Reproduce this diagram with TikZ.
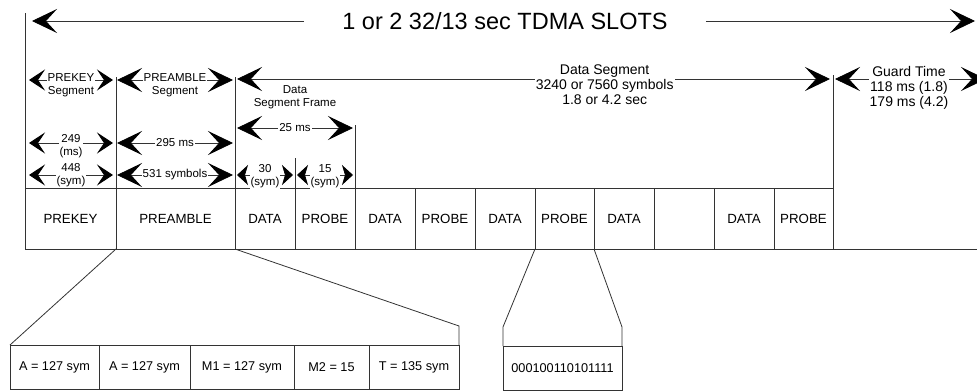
\documentclass[tikz,border=0pt]{standalone}
\usepackage{fontspec}
\setmainfont{Liberation Sans}
\usetikzlibrary{arrows.meta, positioning}

\tikzset{
  rule/.style={draw=black!80, line width=0.8pt},
  bigtip/.tip={Stealth[length=25pt, width=24pt, inset=11pt, color=black]},
  smalltip/.tip={Stealth[length=16pt, width=21pt, inset=7pt, color=black]},
  tinytip/.tip={Stealth[length=11pt, width=20pt, inset=3pt, color=black]},
  bigdim/.style={rule, bigtip-bigtip},
  smalldim/.style={rule, smalltip-smalltip},
  tinydim/.style={rule, tinytip-tinytip},
  dimlabel/.style={fill=white, inner sep=1pt, align=center, font=\fontsize{11.5}{13}\selectfont},
  biglabel/.style={dimlabel, font=\fontsize{14}{15}\selectfont},
  slot/.style={rule, outer sep=0pt, inner sep=0pt, minimum height=61pt, font=\fontsize{13.3}{15}\selectfont},
  part/.style={rule, outer sep=0pt, inner sep=0pt, minimum height=44pt, font=\fontsize{12.7}{14}\selectfont},
}

\begin{document}
\begin{tikzpicture}[x=1pt, y=-1pt]
\useasboundingbox (0,0) rectangle (977,391);

% slot row
\node[slot, minimum width=91pt, anchor=north west] (prekey) at (25,188) {PREKEY};
\node[slot, minimum width=119pt, right=0pt of prekey] (preamble) {PREAMBLE};
\node[slot, minimum width=60pt, right=0pt of preamble] (data1) {DATA};
\node[slot, minimum width=60pt, right=0pt of data1] (probe1) {PROBE};
\node[slot, minimum width=60pt, right=0pt of probe1] (data2) {DATA};
\node[slot, minimum width=60pt, right=0pt of data2] (probe2) {PROBE};
\node[slot, minimum width=60pt, right=0pt of probe2] (data3) {DATA};
\node[slot, minimum width=59pt, right=0pt of data3] (probe3) {PROBE};
\node[slot, minimum width=60pt, right=0pt of probe3] (data4) {DATA};
\node[slot, minimum width=60pt, right=0pt of data4] (gap) {};
\node[slot, minimum width=60pt, right=0pt of gap] (data5) {DATA};
\node[slot, minimum width=59pt, right=0pt of data5] (probe5) {PROBE};

\draw[rule] (prekey.north west) -- ++(0,-175);
\draw[rule] (prekey.north east) -- ++(0,-111);
\draw[rule] (preamble.north east) -- ++(0,-111);
\draw[rule] (data1.north east) -- ++(0,-30);
\draw[rule] (probe1.north east) -- ++(0,-63);
\draw[rule] (probe5.north east) -- ++(0,-113);
\draw[rule] (probe5.south east) -- ++(144,0);

% preamble and probe detail
\node[part, minimum width=89pt, anchor=north west] (symA) at (10,345) {A = 127 sym};
\node[part, minimum width=91pt, right=0pt of symA] (symB) {A = 127 sym};
\node[part, minimum width=104pt, right=0pt of symB] (symM1) {M1 = 127 sym};
\node[part, minimum width=75pt, right=0pt of symM1] (symM2) {M2 = 15};
\node[part, minimum width=90pt, right=0pt of symM2] (symT) {T = 135 sym};
\node[part, minimum width=119pt, anchor=north west] (pattern) at (503,346) {000100110101111};

\draw[rule] (preamble.south west) -- (symA.north west);
\draw[rule] (preamble.south east) -- ++(224,77) -- (symT.north east);
\draw[rule] (probe3.south west) -- ++(-32,78) -- (pattern.north west);
\draw[rule] (probe3.south east) -- ++(28,78) -- (pattern.north east);

% dimensions
\coordinate (slotsL) at (32,21);
\coordinate (slotsR) at (975,21);
\node[font=\fontsize{23.5}{26}\selectfont, inner xsep=38pt] (slots) at (505,21) {1 or 2 32/13 sec TDMA SLOTS};
\draw[rule, -bigtip] (slots.west) -- (slotsL);
\draw[rule, -bigtip] (slots.east) -- (slotsR);

\coordinate (pkA) at (29,80);   \coordinate (pkB) at (113,80);
\coordinate (paA) at (117,80);  \coordinate (paB) at (233,80);
\coordinate (dsA) at (237,79);  \coordinate (dsB) at (830,79);
\coordinate (gtA) at (835,79);  \coordinate (gtB) at (986,79);
\coordinate (frA) at (237,128); \coordinate (frB) at (353,128);
\coordinate (pkmsA) at (29,143);  \coordinate (pkmsB) at (113,143);
\coordinate (pamsA) at (117,143); \coordinate (pamsB) at (233,143);
\coordinate (pksymA) at (29,175);  \coordinate (pksymB) at (113,175);
\coordinate (pasymA) at (117,175); \coordinate (pasymB) at (233,175);
\coordinate (dtA) at (237,175); \coordinate (dtB) at (293,175);
\coordinate (pbA) at (297,175); \coordinate (pbB) at (353,175);

\draw[smalldim] (pkA) -- (pkB) node[midway, dimlabel, yshift=-5.5pt] (pkseg) {PREKEY\\Segment};
\draw[bigdim] (paA) -- (paB) node[midway, dimlabel, yshift=-5.5pt] (paseg) {PREAMBLE\\Segment};
\draw[bigdim] (dsA) -- (dsB) node[pos=0.62, biglabel, yshift=-5.5pt] (dseg) {Data Segment\\3240 or 7560 symbols\\1.8 or 4.2 sec};
\draw[bigdim] (gtA) -- (gtB) node[pos=0.49, biglabel, yshift=-9pt] (guard) {Guard Time\\118 ms (1.8)\\179 ms (4.2)};
\node[align=center, font=\fontsize{11.5}{13}\selectfont] (dsframe) at (295,97.5) {Data\\Segment Frame};
\draw[bigdim] (frA) -- (frB) node[midway, dimlabel] (frms) {25 ms};
\draw[smalldim] (pkmsA) -- (pkmsB) node[midway, dimlabel, yshift=-3.5pt] (pkms) {249\\(ms)};
\draw[bigdim] (pamsA) -- (pamsB) node[midway, dimlabel] (pams) {295 ms};
\draw[smalldim] (pksymA) -- (pksymB) node[midway, dimlabel, yshift=-0.5pt] (pksym) {448\\(sym)};
\draw[bigdim] (pasymA) -- (pasymB) node[midway, dimlabel] (pasym) {531 symbols};
\draw[tinydim] (dtA) -- (dtB) node[midway, dimlabel, yshift=-1pt] (dtsym) {30\\(sym)};
\draw[tinydim] (pbA) -- (pbB) node[midway, dimlabel, yshift=-1pt] (pbsym) {15\\(sym)};
\end{tikzpicture}
\end{document}
